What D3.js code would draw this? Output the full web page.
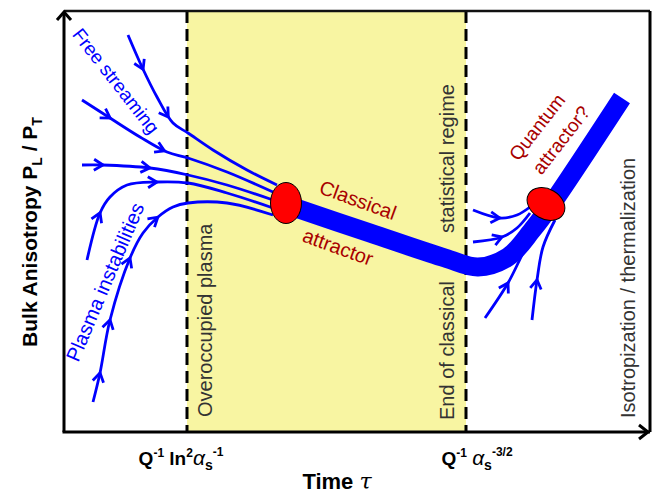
<!DOCTYPE html>
<html><head><meta charset="utf-8">
<script src="https://cdn.jsdelivr.net/npm/d3@7"></script>
<style>
body{margin:0;background:#fff}
svg{display:block}
text{font-family:"Liberation Sans",Arial,Helvetica,sans-serif}
</style>
</head><body>
<svg id="chart" width="660" height="493"></svg>
<script>
// ---------- data (schematic units: time 0..586, anisotropy 0..421) ----------
const timeDomain = [0, 586];
const anisoDomain = [0, 421];
const regimeBounds = [123, 402];            // tau_1 = Q^-1 ln^2 a^-1 , tau_2 = Q^-1 a^-3/2
const regimeLabels = ["Overoccupied plasma", "End of classical", "statistical regime", "Isotropization / thermalization"];
const attractorLabels = ["Classical", "attractor", "Quantum", "attractor?"];
const flowLabels = ["Free streaming", "Plasma instabilities"];

// thick attractor band (centre line)
const attractorBand = [[226,226],[306,199],[381,174],[414,165],[444,175],[469,203],[487,227],[558,334]];

// thin early-time trajectories converging to the classical attractor
const earlyLines = [
  [[64,397],[78,365],[93,335],[109,309],[124,299],[149,282],[183,262],[213,247]],
  [[18,332],[46,314],[76,295],[103,280],[124,274],[163,260],[209,240]],
  [[18,267],[38,267],[86,264],[124,257],[163,247],[209,232]],
  [[23,172],[36,219],[46,235],[63,247],[93,250],[124,249],[163,239],[209,224]],
  [[29,30],[36,59],[46,112],[66,174],[79,199],[94,215],[109,225],[124,229],[163,229],[209,217]]
];
const earlyArrows = [
  [[78,362],[104,315]],
  [[46,314],[101,282]],
  [[39,267],[86,264]],
  [[36,219],[93,250]],
  [[36,59],[46,112],[66,174],[94,215]]
];

// thin late-time trajectories converging to the quantum attractor
const lateLines = [
  [[409,222],[436,214],[453,217],[466,225]],
  [[409,190],[438,195],[453,204],[466,219]],
  [[421,114],[444,149],[459,179],[476,212]],
  [[468,112],[473,152],[479,185],[491,212]]
];
const lateArrows = [[[436,214]],[[438,195]],[[444,149]],[[473,152]]];

const classicalFixedPoint = [222, 229];
const quantumFixedPoint = [482, 228];

// ---------- drawing ----------
const svg = d3.select("#chart");
const x = d3.scaleLinear().domain(timeDomain).range([64, 650]);
const y = d3.scaleLinear().domain(anisoDomain).range([432, 11]);
const BLUE = "#0000ff", DARKRED = "#a80000", GREY = "#333";

// overoccupied (yellow) regime
svg.append("rect")
  .attr("x", x(regimeBounds[0])).attr("y", y(anisoDomain[1]))
  .attr("width", x(regimeBounds[1]) - x(regimeBounds[0]))
  .attr("height", y(0) - y(anisoDomain[1]))
  .attr("fill", "#f8f5a2");

// regime labels
function vlabel(txt, bx, by, size) {
  svg.append("text").attr("transform", `translate(${bx},${by}) rotate(-90)`)
    .attr("font-size", size).attr("fill", GREY).text(txt);
}
vlabel(regimeLabels[0], x(regimeBounds[0]) + 25, 417, 20);
vlabel(regimeLabels[1], x(regimeBounds[1]) - 12, 420, 20);
vlabel(regimeLabels[2], x(regimeBounds[1]) - 12, 233, 20);
vlabel(regimeLabels[3], 635, 418, 20);

// dashed regime boundaries
regimeBounds.forEach(b => {
  svg.append("line").attr("x1", x(b)).attr("x2", x(b))
    .attr("y1", y(anisoDomain[1])).attr("y2", y(0))
    .attr("stroke", "#000").attr("stroke-width", 3).attr("stroke-dasharray", "12,6");
});

const line = d3.line().x(d => x(d[0])).y(d => y(d[1])).curve(d3.curveCatmullRom.alpha(0.5));

function drawArrows(pathNode, pts) {
  const L = pathNode.getTotalLength();
  pts.forEach(pt => {
    const px = x(pt[0]), py = y(pt[1]);
    let best = 0, bd = 1e12;
    for (let s = 0; s <= L; s += 0.5) {
      const p = pathNode.getPointAtLength(s);
      const d = (p.x - px) ** 2 + (p.y - py) ** 2;
      if (d < bd) { bd = d; best = s; }
    }
    const p0 = pathNode.getPointAtLength(best);
    const a = pathNode.getPointAtLength(Math.max(0, best - 2));
    const b = pathNode.getPointAtLength(Math.min(L, best + 2));
    const ang = Math.atan2(b.y - a.y, b.x - a.x) * 180 / Math.PI;
    svg.append("path")
      .attr("transform", `translate(${p0.x},${p0.y}) rotate(${ang})`)
      .attr("d", "M-9,-5.5L0,0L-9,5.5")
      .attr("fill", "none").attr("stroke", BLUE).attr("stroke-width", 2.8)
      .attr("stroke-linejoin", "miter");
  });
}

function drawThin(lines, arrows) {
  lines.forEach((ln, i) => {
    const p = svg.append("path").attr("d", line(ln))
      .attr("fill", "none").attr("stroke", BLUE).attr("stroke-width", 2.8);
    drawArrows(p.node(), arrows[i]);
  });
}
drawThin(earlyLines, earlyArrows);
drawThin(lateLines, lateArrows);

// thick attractor band
svg.append("path").attr("d", line(attractorBand))
  .attr("fill", "none").attr("stroke", BLUE).attr("stroke-width", 19)
  .attr("stroke-linecap", "butt").attr("stroke-linejoin", "round");

// fixed points
svg.append("ellipse").attr("cx", x(classicalFixedPoint[0])).attr("cy", y(classicalFixedPoint[1]))
  .attr("rx", 15.5).attr("ry", 20.5).attr("fill", "#ff0000").attr("stroke", "#000").attr("stroke-width", 1);
svg.append("ellipse")
  .attr("transform", `translate(${x(quantumFixedPoint[0])},${y(quantumFixedPoint[1])}) rotate(30)`)
  .attr("rx", 20).attr("ry", 15).attr("fill", "#ff0000").attr("stroke", "#000").attr("stroke-width", 1);

// rotated annotations
function rlabel(txt, cx, cy, ang, size, col) {
  svg.append("text").attr("transform", `translate(${cx},${cy}) rotate(${ang})`)
    .attr("text-anchor", "middle").attr("dy", "0.35em")
    .attr("font-size", size).attr("fill", col).text(txt);
}
rlabel(attractorLabels[0], 358, 200, 20, 20, DARKRED);
rlabel(attractorLabels[1], 338, 247, 20, 20, DARKRED);
rlabel(attractorLabels[2], 537, 127, -52, 19, DARKRED);
rlabel(attractorLabels[3], 561, 140, -52, 19, DARKRED);
rlabel(flowLabels[0], 116, 81, 52, 19, BLUE);
rlabel(flowLabels[1], 105, 282, -67, 20, BLUE);

// frame / axes
svg.append("line").attr("x1", x(0)).attr("x2", x(timeDomain[1])).attr("y1", y(anisoDomain[1])).attr("y2", y(anisoDomain[1]))
  .attr("stroke", "#111").attr("stroke-width", 2.5);
svg.append("line").attr("x1", x(timeDomain[1])).attr("x2", x(timeDomain[1])).attr("y1", y(anisoDomain[1])).attr("y2", y(0))
  .attr("stroke", "#000").attr("stroke-width", 3);

const xAxis = d3.axisBottom(x).tickValues(regimeBounds).tickSize(0).tickFormat("");
const gx = svg.append("g").attr("transform", `translate(0,${y(0)})`).call(xAxis);
gx.select(".domain").remove();
svg.append("line").attr("x1", x(0) - 1.5).attr("x2", x(timeDomain[1])).attr("y1", y(0)).attr("y2", y(0))
  .attr("stroke", "#000").attr("stroke-width", 3);
svg.append("line").attr("x1", x(0)).attr("x2", x(0)).attr("y1", y(0)).attr("y2", y(anisoDomain[1]) + 1)
  .attr("stroke", "#000").attr("stroke-width", 3);
// arrow heads
svg.append("path").attr("d", `M${x(0)-7},${y(anisoDomain[1])+9}L${x(0)},${y(anisoDomain[1])+1}L${x(0)+7},${y(anisoDomain[1])+9}`)
  .attr("fill", "none").attr("stroke", "#000").attr("stroke-width", 3);
svg.append("path").attr("d", `M${x(timeDomain[1])-11},${y(0)-7}L${x(timeDomain[1])-2},${y(0)}L${x(timeDomain[1])-11},${y(0)+7}`)
  .attr("fill", "none").attr("stroke", "#000").attr("stroke-width", 3);

// tick labels
const t1 = svg.append("text").attr("x", x(regimeBounds[0]) - 6).attr("y", 465)
  .attr("text-anchor", "middle").attr("font-weight", "bold").attr("font-size", 19);
t1.append("tspan").text("Q");
t1.append("tspan").attr("font-size", 12).attr("dy", -8).text("-1");
t1.append("tspan").attr("dy", 8).text(" ln");
t1.append("tspan").attr("font-size", 12).attr("dy", -8).text("2");
t1.append("tspan").attr("dy", 8).attr("font-style", "italic").attr("font-weight", "normal").attr("font-size", 21).text("α");
t1.append("tspan").attr("font-size", 14).attr("dy", 5).text("s");
t1.append("tspan").attr("font-size", 12).attr("dy", -14).text("-1");

const t2 = svg.append("text").attr("x", x(regimeBounds[1]) + 11).attr("y", 465)
  .attr("text-anchor", "middle").attr("font-weight", "bold").attr("font-size", 19);
t2.append("tspan").text("Q");
t2.append("tspan").attr("font-size", 12).attr("dy", -8).text("-1");
t2.append("tspan").attr("dy", 8).text(" ");
t2.append("tspan").attr("font-style", "italic").attr("font-weight", "normal").attr("font-size", 21).text("α");
t2.append("tspan").attr("font-size", 14).attr("dy", 5).text("s");
t2.append("tspan").attr("font-size", 12).attr("dy", -14).text("-3/2");

// axis titles
const xt = svg.append("text").attr("x", 337).attr("y", 489).attr("text-anchor", "middle")
  .attr("font-weight", "bold").attr("font-size", 22);
xt.append("tspan").text("Time ");
xt.append("tspan").attr("font-style", "italic").attr("font-family", "DejaVu Serif, serif").attr("font-weight", "normal").text("τ");

const yt = svg.append("text").attr("transform", "translate(37,232) rotate(-90)").attr("text-anchor", "middle")
  .attr("font-weight", "bold").attr("font-size", 21);
yt.append("tspan").text("Bulk Anisotropy P");
yt.append("tspan").attr("font-size", 14).attr("dy", 5).text("L");
yt.append("tspan").attr("dy", -5).text(" / P");
yt.append("tspan").attr("font-size", 14).attr("dy", 5).text("T");
</script>
</body></html>
